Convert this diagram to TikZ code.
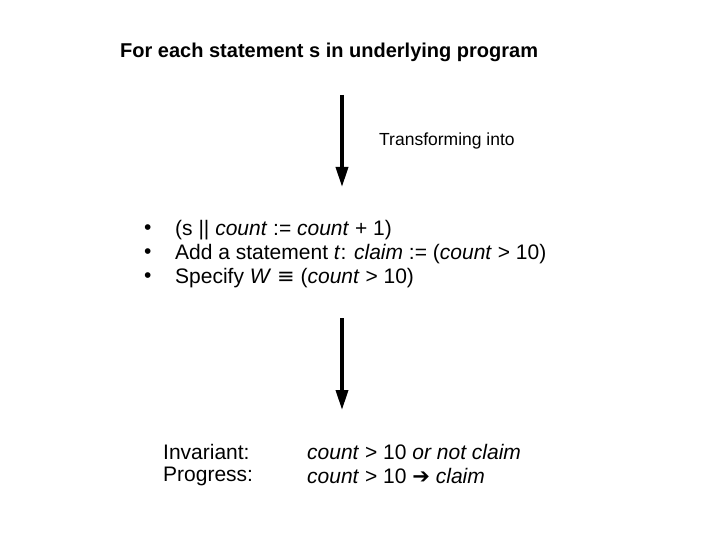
\documentclass[tikz,border=0pt]{standalone}
\usepackage{fontspec}
\setmainfont{Liberation Sans}
\newfontfamily\dv{DejaVu Sans}
\usetikzlibrary{arrows.meta}
\begin{document}
\begin{tikzpicture}[x=1pt,y=-1pt,
  txt/.style={anchor=west,inner sep=0pt,font=\fontsize{21}{24}\selectfont},
  big/.style={line width=3.5pt,-{Triangle[width=12pt,length=20pt]}}]
\useasboundingbox (0,0) rectangle (720,540);
\node[txt,font=\fontsize{20}{24}\selectfont\bfseries] (title) at (120,52) {For each statement s in underlying program};
\coordinate (a1) at (342,95); \coordinate (b1) at (342,187);
\draw[big] (a1) -- (b1);
\node[txt,font=\fontsize{17.5}{20}\selectfont] (tr) at (379,141) {Transforming into};
\node[txt] (u1) at (144,230) {•};
\node[txt] (u2) at (144,254) {•};
\node[txt] (u3) at (144,278) {•};
\node[txt] (l1) at (175,230) {(s || \textit{count} := \textit{count} + 1)};
\node[txt] (l2) at (175,254) {Add a statement \textit{t}: \textit{claim} := (\textit{count} > 10)};
\node[txt] (l3) at (175,278) {Specify \textit{W} {\dv ≡} (\textit{count} > 10)};
\coordinate (a2) at (342,318); \coordinate (b2) at (342,410);
\draw[big] (a2) -- (b2);
\node[txt] (inv) at (163,452) {Invariant:};
\node[txt] (pro) at (163,476) {Progress:};
\node[txt] (iv) at (307,452) {\textit{count} > 10 \textit{or not claim}};
\node[txt] (pv) at (307,476) {\textit{count} > 10 {\dv\bfseries ➔} \textit{claim}};
\end{tikzpicture}
\end{document}
